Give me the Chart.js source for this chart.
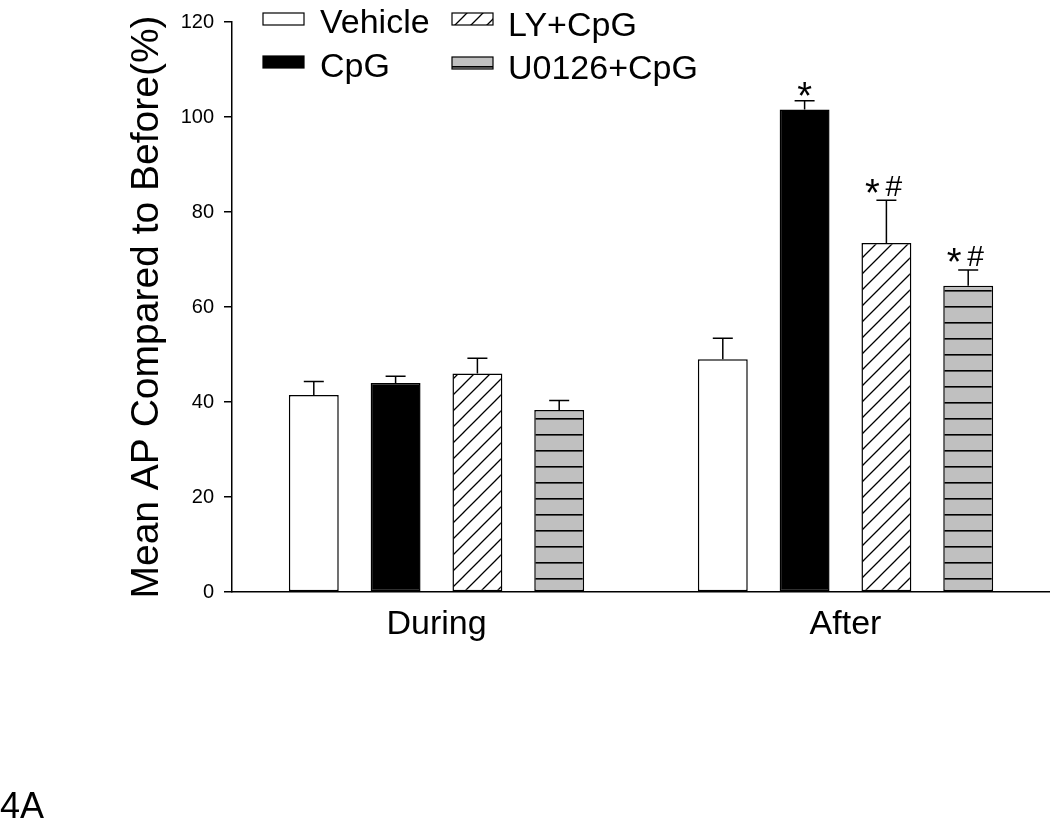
<!DOCTYPE html>
<html>
<head>
<meta charset="utf-8">
<script src="https://cdn.jsdelivr.net/npm/chart.js@4/dist/chart.umd.min.js"></script>
<style>
  body { margin: 0; background: #fff; }
  #wrap { width: 1050px; height: 820px; position: relative; }
</style>
</head>
<body>
<div id="wrap"><canvas id="myChart1"></canvas></div>
<script>
const categories = ["During", "After"];
const seriesNames = ["Vehicle", "CpG", "LY+CpG", "U0126+CpG"];

const vehicleMean = [41.5, 49.0];
const vehicleSem = [2.8, 4.4];
const cpgMean = [44.0, 101.6];
const cpgSem = [1.4, 1.8];
const lyMean = [46.0, 73.5];
const lySem = [3.2, 9.0];
const u0126Mean = [38.3, 64.5];
const u0126Sem = [2.0, 3.3];

// significance marks above the bars
const vehicleMarks = ["", ""];
const cpgMarks = ["", "*"];
const lyMarks = ["", "*#"];
const u0126Marks = ["", "*#"];

const yMin = 0, yMax = 120, yStep = 20;

const FONT = "'Liberation Sans', Arial, sans-serif";
Chart.defaults.font.family = FONT;
Chart.defaults.color = "#000";

function hatchPattern() {
    const c = document.createElement("canvas");
    c.width = 16; c.height = 16;
    const g = c.getContext("2d");
    g.fillStyle = "#fff";
    g.fillRect(0, 0, 16, 16);
    g.strokeStyle = "#000";
    g.lineWidth = 1.3;
    g.beginPath();
    g.moveTo(-4, 4); g.lineTo(4, -4);
    g.moveTo(0, 16); g.lineTo(16, 0);
    g.moveTo(12, 20); g.lineTo(20, 12);
    g.stroke();
    return g.createPattern(c, "repeat");
}

function stripePattern() {
    const c = document.createElement("canvas");
    c.width = 16; c.height = 16;
    const g = c.getContext("2d");
    g.fillStyle = "#c0c0c0";
    g.fillRect(0, 0, 16, 16);
    g.fillStyle = "#000";
    g.fillRect(0, 2, 16, 1.6);
    return g.createPattern(c, "repeat");
}

const ctx = document.getElementById("myChart1").getContext("2d");

const errorBars = {
    id: "errorBars",
    afterDatasetsDraw(chart) {
        const g = chart.ctx;
        const ys = chart.scales.y;
        g.save();
        g.strokeStyle = "#000";
        g.lineWidth = 1.5;
        chart.data.datasets.forEach((ds, i) => {
            chart.getDatasetMeta(i).data.forEach((bar, j) => {
                const top = ys.getPixelForValue(ds.data[j] + ds.sem[j]);
                g.beginPath();
                g.moveTo(bar.x, bar.y);
                g.lineTo(bar.x, top);
                g.moveTo(bar.x - 10, top);
                g.lineTo(bar.x + 10, top);
                g.stroke();
                const mark = ds.marks[j];
                if (!mark) return;
                g.fillStyle = "#000";
                g.textBaseline = "alphabetic";
                if (mark === "*") {
                    g.font = "38px " + FONT;
                    g.textAlign = "center";
                    g.fillText("*", bar.x, top + 8.5);
                } else {
                    g.font = "38px " + FONT;
                    g.textAlign = "center";
                    g.fillText("*", bar.x - 14, top + 5.5);
                    g.font = "30px " + FONT;
                    g.textAlign = "left";
                    g.fillText("#", bar.x - 1, top - 4);
                }
            });
        });
        g.restore();
    }
};

const legendBox = {
    id: "legendBox",
    afterDraw(chart) {
        const g = chart.ctx;
        const spots = [
            { bx: 263, by: 13, tx: 320, ty: 24 },
            { bx: 263, by: 56, tx: 320, ty: 68 },
            { bx: 452, by: 13, tx: 508, ty: 27 },
            { bx: 452, by: 57, tx: 508, ty: 70 }
        ];
        g.save();
        chart.data.datasets.forEach((ds, i) => {
            const s = spots[i];
            g.fillStyle = ds.backgroundColor;
            g.fillRect(s.bx, s.by, 41, 12);
            g.strokeStyle = "#000";
            g.lineWidth = 1.2;
            g.strokeRect(s.bx, s.by, 41, 12);
            g.fillStyle = "#000";
            g.font = "34px " + FONT;
            g.textAlign = "left";
            g.textBaseline = "middle";
            g.fillText(ds.label, s.tx, s.ty);
        });
        g.font = "36px " + FONT;
        g.textBaseline = "alphabetic";
        g.fillText("4A", 0, 818);
        g.restore();
    }
};

const seriesMeans = [vehicleMean, cpgMean, lyMean, u0126Mean];
const seriesSems = [vehicleSem, cpgSem, lySem, u0126Sem];
const seriesMarks = [vehicleMarks, cpgMarks, lyMarks, u0126Marks];
const seriesFills = ["#ffffff", "#000000", hatchPattern(), stripePattern()];

const data = {
    labels: categories,
    datasets: seriesNames.map((name, i) => ({
        label: name,
        data: seriesMeans[i],
        sem: seriesSems[i],
        marks: seriesMarks[i],
        backgroundColor: seriesFills[i],
        borderColor: "#000",
        borderWidth: 1.5,
        borderSkipped: false,
        categoryPercentage: 0.8,
        barPercentage: 0.61
    }))
};

const myChart = new Chart(ctx, {
    type: "bar",
    data: data,
    options: {
        responsive: true,
        maintainAspectRatio: false,
        animation: false,
        layout: { padding: { left: 120, right: 0, top: 20, bottom: 0 } },
        plugins: {
            legend: { display: false },
            tooltip: { enabled: false }
        },
        scales: {
            x: {
                grid: { display: false },
                border: { display: true, color: "#000", width: 1.5 },
                ticks: { font: { size: 34 }, color: "#000", padding: 4 },
                afterFit(scale) { scale.height = 228; }
            },
            y: {
                min: yMin,
                max: yMax,
                ticks: { stepSize: yStep, font: { size: 20 }, color: "#000", padding: 10 },
                grid: { drawOnChartArea: false, drawTicks: true, tickLength: 8, color: "#000", lineWidth: 1.5 },
                border: { display: true, color: "#000", width: 1.5 },
                title: {
                    display: true,
                    text: "Mean AP Compared to Before(%)",
                    font: { size: 39 },
                    color: "#000",
                    padding: { top: 4, bottom: 4 }
                },
                afterFit(scale) { scale.width = 112; }
            }
        }
    },
    plugins: [errorBars, legendBox]
});
</script>
</body>
</html>
